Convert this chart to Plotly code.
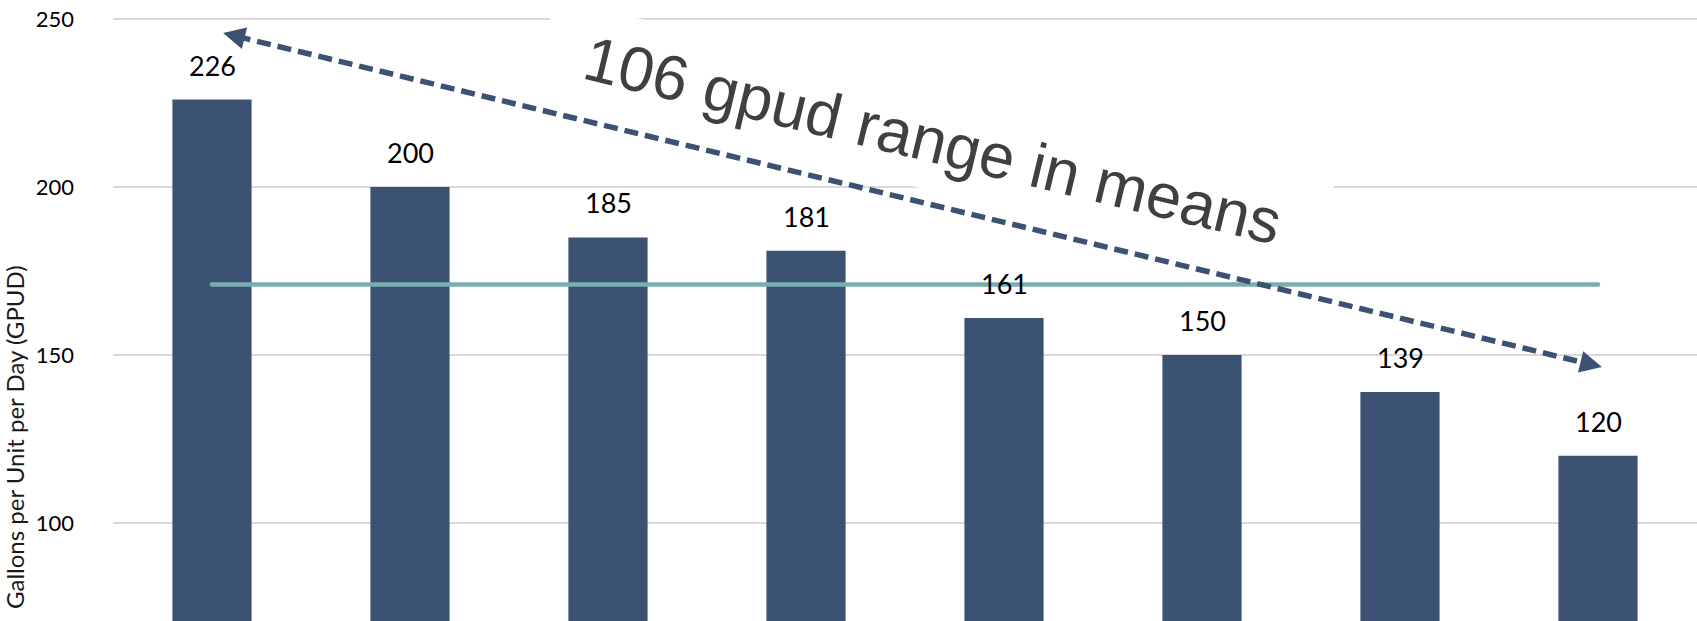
import math
import plotly.graph_objects as go

# Mean daily water use per group
categories = ["A", "B", "C", "D", "E", "F", "G", "H"]
gpud = [226, 200, 185, 181, 161, 150, 139, 120]
overall_mean = 171

# Range arrow endpoints (category position, GPUD) and callout
arrow_x = [0.056, 7.02]
arrow_y = [245.8, 146.4]
callout_text = "106 gpud range in means"
callout_x = 3.64
callout_y = 214

y_ticks = [100, 150, 200, 250]

BAR = "#3B5273"
TEAL = "#79ADB0"

W, H = 1697, 621
M_LEFT = 113
Y_RANGE = [70.83, 255.65]
xpos = list(range(len(categories)))


def to_px(xc, yv):
    """Category position / value -> pixel position in the page."""
    px = M_LEFT + (xc + 0.5) * (W - M_LEFT) / len(categories)
    py = (Y_RANGE[1] - yv) / (Y_RANGE[1] - Y_RANGE[0]) * H
    return px, py


(x0p, y0p) = to_px(arrow_x[0], arrow_y[0])
(x1p, y1p) = to_px(arrow_x[1], arrow_y[1])
seg = math.hypot(x1p - x0p, y1p - y0p)
ux, uy = (x1p - x0p) / seg, (y1p - y0p) / seg

fig = go.Figure()

fig.add_trace(go.Bar(
    x=xpos, y=gpud, width=0.4,
    marker=dict(color=BAR, line=dict(width=0)),
    hoverinfo="skip",
))

# overall mean line across the groups
fig.add_trace(go.Scatter(
    x=[xpos[0], xpos[-1]], y=[overall_mean, overall_mean],
    mode="lines+markers",
    line=dict(color=TEAL, width=4.5),
    marker=dict(color=TEAL, size=4.5, symbol="circle"),
    hoverinfo="skip",
))

# dashed shaft of the range arrow (stops short of the heads)
inset = 14 / seg
shaft_x = [arrow_x[0] + (arrow_x[1] - arrow_x[0]) * inset,
           arrow_x[1] - (arrow_x[1] - arrow_x[0]) * inset]
shaft_y = [arrow_y[0] + (arrow_y[1] - arrow_y[0]) * inset,
           arrow_y[1] - (arrow_y[1] - arrow_y[0]) * inset]
fig.add_trace(go.Scatter(
    x=shaft_x, y=shaft_y, mode="lines",
    line=dict(color=BAR, width=5.5, dash="14px,7px"),
    hoverinfo="skip",
))

annotations = []

# arrowheads at both ends of the range arrow
head_len = 16
for (hx, hy, sgn) in [(arrow_x[0], arrow_y[0], 1), (arrow_x[1], arrow_y[1], -1)]:
    annotations.append(dict(
        x=hx, y=hy, xref="x", yref="y", text="", showarrow=True,
        ax=sgn * ux * head_len, ay=sgn * uy * head_len,
        arrowhead=2, arrowsize=1.1, arrowwidth=4, arrowcolor=BAR,
        standoff=0, startstandoff=0,
    ))

for xi, v in zip(xpos, gpud):
    annotations.append(dict(
        x=xi, y=v, xref="x", yref="y", text=str(v), showarrow=False,
        yanchor="bottom", yshift=16,
        font=dict(family="Lato", size=27, color="#000000"),
    ))

annotations.append(dict(
    x=callout_x, y=callout_y, xref="x", yref="y", text=callout_text,
    showarrow=False, textangle=13.5, width=798, height=96,
    bgcolor="#FFFFFF", xanchor="center", yanchor="middle",
    font=dict(family="Liberation Sans", size=63, color="#404040"),
))

annotations.append(dict(
    x=(14 - M_LEFT) / (W - M_LEFT), y=1 - 437 / H, xref="paper", yref="paper",
    xanchor="center", yanchor="middle",
    text="Gallons per Unit per Day (GPUD)", showarrow=False, textangle=-90,
    font=dict(family="Lato", size=24, color="#1A1A1A"),
))

fig.update_layout(
    annotations=annotations,
    width=W, height=H, autosize=False,
    margin=dict(l=M_LEFT, r=0, t=0, b=0, pad=0),
    paper_bgcolor="#FFFFFF", plot_bgcolor="#FFFFFF",
    showlegend=False,
    xaxis=dict(
        range=[-0.5, len(categories) - 0.5],
        tickvals=xpos, ticktext=categories,
        showticklabels=False, showgrid=False, zeroline=False, showline=False,
    ),
    yaxis=dict(
        range=Y_RANGE,
        tickvals=y_ticks,
        showgrid=True, gridcolor="#D9D9D9", gridwidth=1.5,
        zeroline=False, showline=False, ticks="",
        ticklabelstandoff=38,
        tickfont=dict(family="Lato", size=22, color="#000000"),
    ),
)

fig.write_html("out.html")
